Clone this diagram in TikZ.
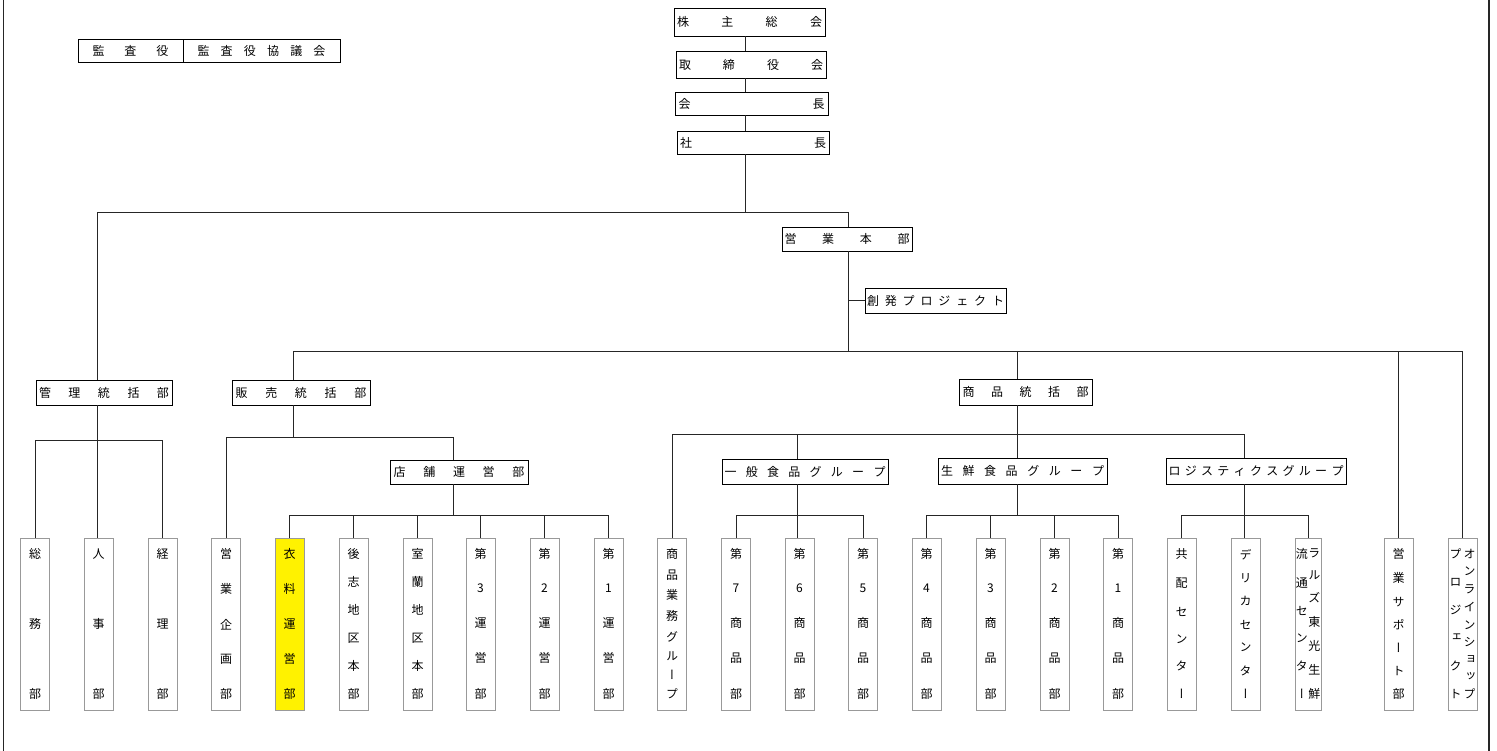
\documentclass[tikz,border=0pt]{standalone}
\usepackage{fontspec}
\setmainfont{Noto Sans CJK JP}
\newfontfamily\jpv[RawFeature=+vert]{Noto Sans CJK JP}
\def\gobbleone#1{}
\def\hspreadA#1#2{#1\ifx\relax#2\expandafter\gobbleone\else\hfill\expandafter\hspreadA\fi#2}
\newcommand\hsp[2]{\makebox[#1pt][s]{\hspreadA#2\relax}}
\def\vspreadA#1#2{\hbox to\hsize{\hss#1\hss}\ifx\relax#2\expandafter\gobbleone\else\vfill\expandafter\vspreadA\fi#2}
\newcommand\vsp[2][12]{\vbox to 150pt{\hsize=#1pt\offinterlineskip\jpv\vspreadA#2\relax}}
\tikzset{
  box/.style={draw=black, line width=0.8pt, inner sep=0pt, rectangle},
  leaf/.style={draw=black!40, line width=0.8pt, inner sep=0pt, rectangle, minimum width=29pt, minimum height=172pt},
  conn/.style={draw=black!85, line width=0.8pt},
  frameline/.style={draw=black!85, line width=1.4pt}
}
\begin{document}
\begin{tikzpicture}[x=1pt,y=-1pt,every node/.style={font=\fontsize{12}{14}\selectfont}]
\useasboundingbox (0,0) rectangle (1497,751);
\draw[frameline] (3.5,0) -- (3.5,751);
\draw[frameline] (1489,0) -- (1489,751);
% top nodes
\node[box,minimum width=105pt,minimum height=23pt] (kansa) at (130.5,50.5) {\hsp{76}{監査役}};
\node[box,minimum width=157pt,minimum height=23pt] (kansakyo) at (261.5,50.5) {\hsp{128}{監査役協議会}};
\node[box,minimum width=151pt,minimum height=28pt] (kabu) at (749.5,22) {\hsp{145}{株主総会}};
\node[box,minimum width=150pt,minimum height=27pt] (tori) at (751,64.5) {\hsp{144}{取締役会}};
\node[box,minimum width=153pt,minimum height=23pt] (kaicho) at (751.5,103.5) {\hsp{146}{会長}};
\node[box,minimum width=152pt,minimum height=23pt] (shacho) at (753,142.5) {\hsp{146}{社長}};
\node[box,minimum width=130pt,minimum height=24pt] (eigyo) at (847,239) {\hsp{125}{営業本部}};
\node[box,minimum width=141pt,minimum height=25pt] (sohatsu) at (935.5,300.5) {\hsp{137}{創発プロジェクト}};
\node[box,minimum width=136pt,minimum height=25pt] (kanri) at (104,392.5) {\hsp{130}{管理統括部}};
\node[box,minimum width=138pt,minimum height=25pt] (hanbai) at (301,392.5) {\hsp{131}{販売統括部}};
\node[box,minimum width=138pt,minimum height=24pt] (tenpo) at (459,472) {\hsp{131}{店舗運営部}};
\node[box,minimum width=133pt,minimum height=26pt] (shohin) at (1025.5,392) {\hsp{126}{商品統括部}};
\node[box,minimum width=166pt,minimum height=25pt] (ippan) at (805,471.5) {\hsp{161}{一般食品グループ}};
\node[box,minimum width=169pt,minimum height=26pt] (seisen) at (1022.5,471) {\hsp{163}{生鮮食品グループ}};
\node[box,minimum width=180pt,minimum height=26pt] (logi) at (1256,471) {\hsp{175}{ロジスティクスグループ}};
% leaves
\node[leaf] (soumu) at (35,624) {\vsp{総務部}};
\node[leaf] (jinji) at (98.5,624) {\vsp{人事部}};
\node[leaf] (keiri) at (162.5,624) {\vsp{経理部}};
\node[leaf] (eikaku) at (226,624) {\vsp{営業企画部}};
\node[leaf,fill=yellow] (iryo) at (289.5,624) {\vsp{衣料運営部}};
\node[leaf] (shiribeshi) at (353.5,624) {\vsp{後志地区本部}};
\node[leaf] (muroran) at (417.5,624) {\vsp{室蘭地区本部}};
\node[leaf] (d3u) at (480.5,624) {\vsp{第3運営部}};
\node[leaf] (d2u) at (544.5,624) {\vsp{第2運営部}};
\node[leaf] (d1u) at (608.5,624) {\vsp{第1運営部}};
\node[leaf] (gyomu) at (672,624) {\vsp{商品業務グループ}};
\node[leaf] (d7) at (736,624) {\vsp{第7商品部}};
\node[leaf] (d6) at (799.5,624) {\vsp{第6商品部}};
\node[leaf] (d5) at (863,624) {\vsp{第5商品部}};
\node[leaf] (d4) at (926.5,624) {\vsp{第4商品部}};
\node[leaf] (d3s) at (990.5,624) {\vsp{第3商品部}};
\node[leaf] (d2s) at (1054.5,624) {\vsp{第2商品部}};
\node[leaf] (d1s) at (1118,624) {\vsp{第1商品部}};
\node[leaf] (kyohai) at (1181.5,624) {\vsp{共配センター}};
\node[leaf] (delica) at (1245.5,624) {\vsp{デリカセンター}};
\node[leaf,minimum width=26pt] (rals) at (1308,624) {\vsp[12.5]{流通センター}\vsp[12.5]{ラルズ東光生鮮}};
\node[leaf] (esup) at (1398.5,624) {\vsp{営業サポート部}};
\node[leaf] (online) at (1462.5,624) {\vsp[14]{プロジェクト}\vsp[14]{オンラインショップ}};
% junctions
\coordinate (c0) at (745,212);
\coordinate (cL) at (97,212);
\coordinate (cR) at (848,212);
\coordinate (bM) at (848,351);
\coordinate (bL) at (293,351);
\coordinate (bS) at (1017,351);
\coordinate (bR) at (1462,351);
\coordinate (k0) at (97,440);
\coordinate (h0) at (293,437);
\coordinate (t0) at (453,437);
\coordinate (t1) at (453,515);
\coordinate (s0) at (1017,434);
\coordinate (g1) at (797,434);
\coordinate (g3) at (1244,434);
\coordinate (g1b) at (797,515);
\coordinate (s0b) at (1017,515);
\coordinate (g3b) at (1244,515);
% connectors
\draw[conn] (kabu.south -| c0) -- (tori.north -| c0);
\draw[conn] (tori.south -| c0) -- (kaicho.north -| c0);
\draw[conn] (kaicho.south -| c0) -- (shacho.north -| c0);
\draw[conn] (shacho.south -| c0) -- (c0);
\draw[conn] (kanri.north -| cL) -- (cL) -- (cR) -- (eigyo.north -| cR);
\draw[conn] (eigyo.south -| bM) -- (bM);
\draw[conn] (sohatsu.west) -- (sohatsu.west -| bM);
\draw[conn] (hanbai.north -| bL) -- (bL) -- (bR) -- (online.north -| bR);
\draw[conn] (bS) -- (shohin.north -| bS);
\draw[conn] (esup.north) -- (esup.north |- bR);
\draw[conn] (kanri.south -| k0) -- (k0);
\draw[conn] (soumu.north) -- (soumu.north |- k0) -- (keiri.north |- k0) -- (keiri.north);
\draw[conn] (jinji.north -| k0) -- (k0);
\draw[conn] (hanbai.south -| h0) -- (h0);
\draw[conn] (eikaku.north) -- (eikaku.north |- h0) -- (t0) -- (tenpo.north -| t0);
\draw[conn] (tenpo.south -| t0) -- (t1);
\draw[conn] (iryo.north) -- (iryo.north |- t1) -- (d1u.north |- t1) -- (d1u.north);
\foreach \n in {shiribeshi,muroran,d3u,d2u} \draw[conn] (\n.north) -- (\n.north |- t1);
\draw[conn] (shohin.south -| s0) -- (s0);
\draw[conn] (gyomu.north) -- (gyomu.north |- s0) -- (g3) -- (logi.north -| g3);
\draw[conn] (g1) -- (ippan.north -| g1);
\draw[conn] (s0) -- (seisen.north -| s0);
\draw[conn] (ippan.south -| g1b) -- (g1b);
\draw[conn] (d7.north) -- (d7.north |- g1b) -- (d5.north |- g1b) -- (d5.north);
\draw[conn] (d6.north -| g1b) -- (g1b);
\draw[conn] (seisen.south -| s0b) -- (s0b);
\draw[conn] (d4.north) -- (d4.north |- s0b) -- (d1s.north |- s0b) -- (d1s.north);
\foreach \n in {d3s,d2s} \draw[conn] (\n.north) -- (\n.north |- s0b);
\draw[conn] (logi.south -| g3b) -- (g3b);
\draw[conn] (kyohai.north) -- (kyohai.north |- g3b) -- (rals.north |- g3b) -- (rals.north);
\draw[conn] (delica.north -| g3b) -- (g3b);
\end{tikzpicture}
\end{document}
